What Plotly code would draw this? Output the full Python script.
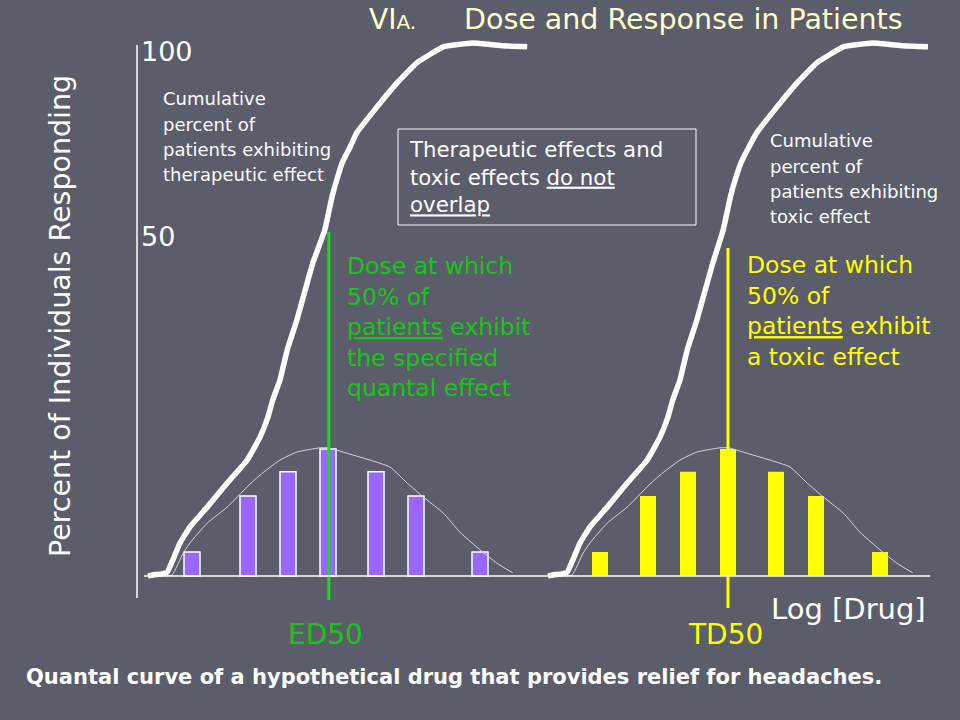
import plotly.graph_objects as go

# ---------------- data (x = log dose units, y = percent of individuals) -------------
bar_x_therapeutic = [24, 31, 36, 41, 47, 52, 60]
bar_x_toxic = [75, 81, 86, 91, 97, 102, 110]
bar_pct_therapeutic = [4.5, 15.0, 19.5, 23.8, 19.5, 15.0, 4.5]
bar_pct_toxic = [4.5, 15.0, 19.5, 23.8, 19.5, 15.0, 4.5]

cum_x_therapeutic = [18.5, 19.1, 20.25, 20.9, 21.6, 22.5, 23.75, 25.9, 28.4, 30.9, 32.5, 33.5,
                     34.1, 35.0, 35.9, 37.1, 37.9, 39.1, 40.6, 41.5, 42.1, 42.75, 43.75, 44.6,
                     47.1, 49.6, 52.1, 55.4, 59.1, 62.9, 65.9]
cum_y_therapeutic = [0.0, 0.2, 0.4, 0.7, 3.0, 6.2, 9.2, 12.9, 17.4, 21.7, 26.0, 29.8,
                     33.0, 36.7, 42.3, 47.9, 52.2, 58.6, 64.8, 71.0, 74.2, 77.3, 80.3, 83.0,
                     87.8, 92.3, 96.1, 99.1, 99.8, 99.3, 99.1]
cum_x_toxic = [68.5, 69.1, 70.25, 70.9, 71.6, 72.5, 73.75, 75.9, 78.4, 80.9, 82.5, 83.5,
               84.1, 85.0, 85.9, 87.1, 87.9, 89.1, 90.4, 91.3, 91.9, 92.6, 93.6, 94.6,
               97.1, 99.6, 102.1, 105.4, 109.1, 112.9, 116.0]
cum_y_toxic = [0.0, 0.2, 0.4, 0.7, 3.0, 6.2, 9.2, 12.9, 17.4, 21.7, 26.0, 29.8,
               33.0, 36.7, 42.3, 47.9, 52.2, 58.6, 64.8, 71.0, 74.2, 77.3, 80.3, 83.0,
               87.8, 92.3, 96.1, 99.1, 99.8, 99.3, 99.1]

dist_x_therapeutic = [20.6, 21.5, 22.9, 23.75, 25.9, 28.4, 30.9, 32.5, 35.0, 37.1, 40.0, 41.1,
                      42.9, 46.25, 48.75, 50.9, 52.9, 55.4, 57.5, 60.0, 62.1, 64.1]
dist_y_therapeutic = [0.0, 0.2, 4.3, 6.2, 9.9, 12.9, 16.7, 18.9, 21.7, 23.2, 24.0, 24.0,
                      23.2, 21.7, 20.4, 17.4, 14.8, 11.8, 8.2, 4.9, 2.4, 0.6]
dist_x_toxic = [70.6, 71.5, 72.9, 73.75, 75.9, 78.4, 80.9, 82.5, 85.0, 87.1, 90.0, 91.1,
                92.9, 96.25, 98.75, 100.9, 102.9, 105.4, 107.5, 110.0, 112.1, 114.1]
dist_y_toxic = [0.0, 0.2, 4.3, 6.2, 9.9, 12.9, 16.7, 18.9, 21.7, 23.2, 24.0, 24.0,
                23.2, 21.7, 20.4, 17.4, 14.8, 11.8, 8.2, 4.9, 2.4, 0.6]

ED50 = 41.1
TD50 = 91.0
y_tick_labels = ["100", "50"]

# ---------------- styling ----------------
BG = "#5B5D6B"
FONT = "DejaVu Sans, sans-serif"
GREEN_LINE = "#11E011"
GREEN_TXT = "#14C814"
YELLOW = "#FFFF00"
TITLE_C = "#FFFFCC"
THIN = "#D6D6DE"

W, H = 960, 720
PX_PER_X = 8.0
PX_PER_Y = 5.34
BASE_PX = 576.0


def px(xp):
    return xp / W


def py(yp):
    return 1 - yp / H


fig = go.Figure()

# bars
fig.add_trace(go.Bar(x=bar_x_therapeutic, y=bar_pct_therapeutic, width=2.0,
                     marker=dict(color="#9966FF", line=dict(color="white", width=1.5)),
                     hoverinfo="skip"))
fig.add_trace(go.Bar(x=bar_x_toxic, y=bar_pct_toxic, width=2.0,
                     marker=dict(color=YELLOW, line=dict(color=YELLOW, width=0)),
                     hoverinfo="skip"))

# thin frequency distribution curves
for xs, ys in [(dist_x_therapeutic, dist_y_therapeutic), (dist_x_toxic, dist_y_toxic)]:
    fig.add_trace(go.Scatter(x=xs, y=ys, mode="lines",
                             line=dict(color=THIN, width=1, shape="spline", smoothing=0.5),
                             hoverinfo="skip"))

# ED50 / TD50 vertical lines
fig.add_trace(go.Scatter(x=[ED50, ED50], y=[64.4, -4.5], mode="lines",
                         line=dict(color=GREEN_LINE, width=3), hoverinfo="skip"))
fig.add_trace(go.Scatter(x=[TD50, TD50], y=[61.4, -6.0], mode="lines",
                         line=dict(color=YELLOW, width=3), hoverinfo="skip"))

# cumulative curves
for xs, ys in [(cum_x_therapeutic, cum_y_therapeutic), (cum_x_toxic, cum_y_toxic)]:
    fig.add_trace(go.Scatter(x=xs, y=ys, mode="lines",
                             line=dict(color="white", width=5.5, shape="spline", smoothing=0.3),
                             hoverinfo="skip"))

# axes lines (frame of the slide chart)
x_lo, x_hi = 0, W / PX_PER_X
y_hi = BASE_PX / PX_PER_Y
y_lo = -(H - BASE_PX) / PX_PER_Y
shapes = [
    dict(type="line", xref="paper", yref="paper", x0=px(137), x1=px(137), y0=py(45), y1=py(598),
         line=dict(color="white", width=1.5)),
    dict(type="line", xref="x", yref="y", x0=144 / PX_PER_X, x1=930 / PX_PER_X, y0=0, y1=0,
         line=dict(color="white", width=1.5)),
    dict(type="rect", xref="paper", yref="paper", x0=px(398), x1=px(696), y0=py(129), y1=py(225),
         line=dict(color="white", width=1)),
]

ann = []


def add(text, x, y, size, color="white", xanchor="left", yanchor="middle", angle=0, align="left"):
    ann.append(dict(text=text, x=px(x), y=py(y), xref="paper", yref="paper", showarrow=False,
                    xanchor=xanchor, yanchor=yanchor, textangle=angle, align=align,
                    font=dict(family=FONT, size=size, color=color)))


add("VI<span style='font-size:20px'>A.</span>", 367, 19, 28, TITLE_C)
add("Dose and Response in Patients", 462, 19, 28.5, TITLE_C)
add(y_tick_labels[0], 139, 52, 27)
add(y_tick_labels[1], 139, 237, 27)
add("Percent of Individuals Responding", 60, 316, 28.5, angle=-90, xanchor="center")

for i, line in enumerate(["Cumulative", "percent of", "patients exhibiting", "therapeutic effect"]):
    add(line, 161, 99 + 25.3 * i, 18)
for i, line in enumerate(["Cumulative", "percent of", "patients exhibiting", "toxic effect"]):
    add(line, 768, 141 + 25.3 * i, 18)

add("Therapeutic effects and<br>toxic effects <u>do not</u><br><u>overlap</u>", 407, 177, 21.3)
add("Dose at which<br>50% of<br><u>patients</u> exhibit<br>the specified<br>quantal effect", 345, 327, 23.5,
    GREEN_TXT)
add("Dose at which<br>50% of<br><u>patients</u> exhibit<br>a toxic effect", 745, 311, 23.5, YELLOW)
add("ED50", 325, 634, 28, GREEN_TXT, xanchor="center")
add("TD50", 725, 634, 28, YELLOW, xanchor="center")
add("Log [Drug]", 769, 609, 29)
add("<b>Quantal curve of a hypothetical drug that provides relief for headaches.</b>", 24, 677, 21)

fig.update_layout(
    width=W, height=H, margin=dict(l=0, r=0, t=0, b=0, pad=0),
    paper_bgcolor=BG, plot_bgcolor=BG, showlegend=False, barmode="overlay",
    xaxis=dict(range=[x_lo, x_hi], visible=False, fixedrange=True),
    yaxis=dict(range=[y_lo, y_hi], visible=False, fixedrange=True),
    shapes=shapes, annotations=ann,
)

fig.write_html("out.html", config={"displayModeBar": False},
               post_script="document.body.style.margin='0';document.body.style.background='" + BG + "';")
